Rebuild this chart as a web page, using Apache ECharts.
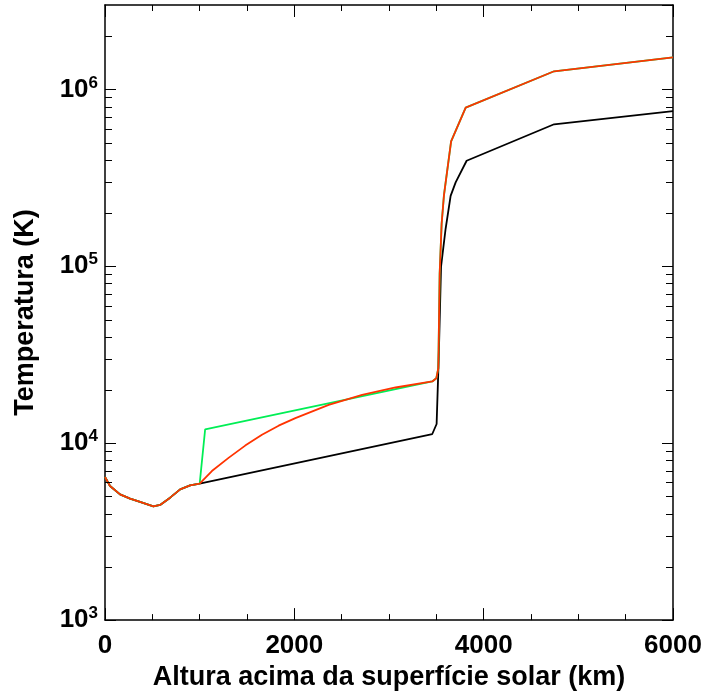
<!DOCTYPE html>
<html>
<head>
<meta charset="utf-8">
<script src="https://cdn.jsdelivr.net/npm/echarts@6/dist/echarts.min.js"></script>
<style>
html,body{margin:0;padding:0;background:#fff;}
#chart{width:705px;height:696px;}
</style>
</head>
<body>
<div id="chart"></div>
<script>
// Shared lower atmosphere (photosphere / chromosphere) heights (km) and temperatures (K)
const lowHeights = [0, 53, 159, 265, 370, 511, 582, 688, 794, 899, 1000];
const lowTemps   = [6440, 5730, 5140, 4860, 4656, 4395, 4478, 4921, 5484, 5770, 5900];

// Black model continuation
const blackHeights = [3457, 3503, 3525, 3550, 3598, 3651, 3704, 3820, 4744, 6000];
const blackTemps   = [11270, 12840, 30000, 100000, 163000, 250000, 298000, 395000, 635000, 754000];

// Red model continuation
const redHeights = [1129, 1305, 1481, 1658, 1834, 2011, 2363, 2716, 3069, 3457, 3500, 3521, 3535, 3556, 3580, 3656, 3810, 4744, 6000];
const redTemps   = [6960, 8260, 9690, 11170, 12560, 13870, 16480, 18770, 20650, 22340, 23310, 26530, 90000, 174000, 250600, 509000, 788000, 1266000, 1517000];

// Green model continuation
const greenHeights = [1058, 3457, 3500, 3521, 3535, 3556, 3580, 3656, 3810, 4744, 6000];
const greenTemps   = [11990, 22340, 23310, 26530, 90000, 174000, 250600, 509000, 788000, 1266000, 1517000];

// Axis ticks
const xMin = 0, xMax = 6000, xInterval = 2000;
const yMin = 1000, yMax = 3000000;
const yMajorTicks = [1000, 10000, 100000, 1000000];
const yMinorMultipliers = [2, 3, 4, 5, 6, 7, 8, 9];

function pairs(h, t) { return h.map((x, i) => [x, t[i]]); }
const blackData = pairs(lowHeights.concat(blackHeights), lowTemps.concat(blackTemps));
const redData   = pairs(lowHeights.concat(redHeights), lowTemps.concat(redTemps));
const greenData = pairs(lowHeights.concat(greenHeights), lowTemps.concat(greenTemps));

const yMinorTicks = [];
yMajorTicks.forEach(d => yMinorMultipliers.forEach(m => { const v = d * m; if (v < yMax) yMinorTicks.push([xMin, v]); }));

const FONT = '"Liberation Sans", Arial, Helvetica, sans-serif';

const chart = echarts.init(document.getElementById('chart'), null, {renderer: 'canvas'});

const lineStyleCommon = {width: 1.8};
const tickStyle = {color: '#000', width: 1};

chart.setOption({
  animation: false,
  backgroundColor: '#fff',
  grid: {left: 105, right: 32, top: 5, bottom: 73, containLabel: false},
  xAxis: [
    {
      type: 'value', position: 'bottom', min: xMin, max: xMax, interval: xInterval,
      name: 'Altura acima da superfície solar (km)',
      nameLocation: 'middle', nameGap: 30,
      nameTextStyle: {fontFamily: FONT, fontWeight: 'bold', fontSize: 27, color: '#000'},
      axisLine: {show: true, onZero: false, lineStyle: {color: '#000', width: 1.5}},
      axisTick: {show: true, inside: true, length: 12, lineStyle: tickStyle},
      minorTick: {show: true, splitNumber: 4, length: 6, lineStyle: tickStyle},
      axisLabel: {margin: 13, fontFamily: FONT, fontWeight: 'bold', fontSize: 26, color: '#000',
        formatter: function (v) { return String(v); }},
      splitLine: {show: false}
    },
    {
      type: 'value', position: 'top', min: xMin, max: xMax, interval: xInterval,
      axisLine: {show: true, onZero: false, lineStyle: {color: '#000', width: 1.5}},
      axisTick: {show: true, inside: true, length: 12, lineStyle: tickStyle},
      minorTick: {show: true, splitNumber: 4, length: 6, lineStyle: tickStyle},
      axisLabel: {show: false},
      splitLine: {show: false}
    }
  ],
  yAxis: [
    {
      type: 'log', logBase: 10, position: 'left', min: yMin, max: yMax,
      name: 'Temperatura (K)',
      nameLocation: 'middle', nameGap: 66, nameRotate: 90,
      nameTextStyle: {fontFamily: FONT, fontWeight: 'bold', fontSize: 27, color: '#000'},
      axisLine: {show: true, onZero: false, lineStyle: {color: '#000', width: 1.5}},
      axisTick: {show: true, inside: true, length: 11, lineStyle: tickStyle},
      axisLabel: {
        margin: 7, showMaxLabel: false,
        formatter: function (v) {
          const e = Math.round(Math.log10(v));
          if (Math.abs(Math.pow(10, e) - v) > 1e-6 * v) return '';
          return '{b|10}{s|' + e + '}';
        },
        rich: {
          b: {fontFamily: FONT, fontWeight: 'bold', fontSize: 26, color: '#000', lineHeight: 30},
          s: {fontFamily: FONT, fontWeight: 'bold', fontSize: 17, color: '#000', verticalAlign: 'top', lineHeight: 30, padding: [0, 0, 10, 0]}
        }
      },
      splitLine: {show: false}
    },
    {
      type: 'log', logBase: 10, position: 'right', min: yMin, max: yMax,
      axisLine: {show: true, onZero: false, lineStyle: {color: '#000', width: 1.5}},
      axisTick: {show: true, inside: true, length: 11, lineStyle: tickStyle},
      axisLabel: {show: false},
      splitLine: {show: false}
    }
  ],
  series: [
    {
      type: 'custom', xAxisIndex: 0, yAxisIndex: 0, silent: true, z: 10, clip: false,
      data: yMinorTicks,
      encode: {x: 0, y: 1},
      renderItem: function (params, api) {
        const v = api.value(1);
        const l = api.coord([xMin, v]);
        const r = api.coord([xMax, v]);
        const yl = Math.round(l[1]) + 0.5;
        return {type: 'group', children: [
          {type: 'line', shape: {x1: l[0], y1: yl, x2: l[0] + 7, y2: yl}, style: {stroke: '#000', lineWidth: 1}},
          {type: 'line', shape: {x1: r[0] - 7, y1: yl, x2: r[0], y2: yl}, style: {stroke: '#000', lineWidth: 1}}
        ]};
      }
    },
    {
      type: 'line', name: 'black', data: blackData, showSymbol: false, z: 2,
      lineStyle: Object.assign({color: '#000000'}, lineStyleCommon), itemStyle: {color: '#000'}
    },
    {
      type: 'line', name: 'green', data: greenData, showSymbol: false, z: 3,
      lineStyle: Object.assign({color: '#00ee55'}, lineStyleCommon), itemStyle: {color: '#00ee55'}
    },
    {
      type: 'line', name: 'red', data: redData, showSymbol: false, z: 4,
      lineStyle: Object.assign({color: '#ff3300'}, lineStyleCommon), itemStyle: {color: '#ff3300'}
    }
  ]
});
</script>
</body>
</html>
